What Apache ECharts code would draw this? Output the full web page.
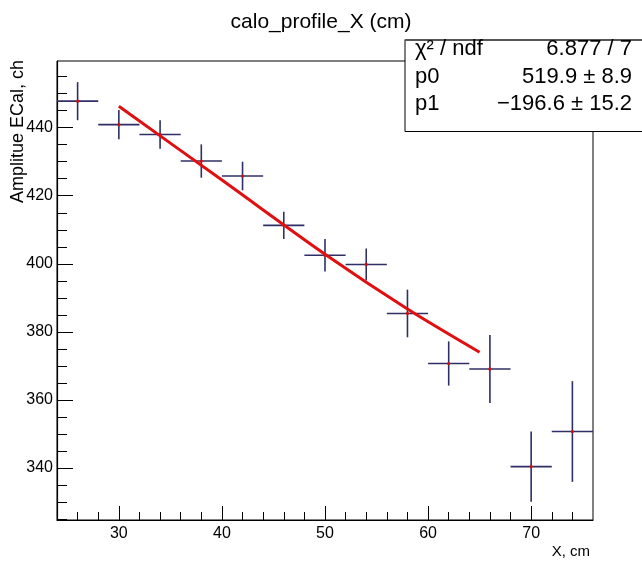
<!DOCTYPE html>
<html>
<head>
<meta charset="utf-8">
<script src="https://cdn.jsdelivr.net/npm/echarts@6/dist/echarts.min.js"></script>
<style>
	html, body { margin: 0; padding: 0; background: #fff; }
	#chart { width: 642px; height: 562px; }
</style>
</head>
<body>
<div id="chart"></div>
<script>
	// bin centres (cm) and profile values
	var binCenters = [26, 30, 34, 38, 42, 46, 50, 54, 58, 62, 66, 70, 74];
	var binHalfWidth = 2;
	var amplitude = [447.8, 440.9, 438.0, 430.2, 425.8, 411.3, 402.5, 399.8, 385.4, 370.7, 369.1, 340.4, 350.7];
	var amplitudeErr = [5.6, 4.3, 4.2, 4.9, 4.2, 4.0, 4.8, 4.7, 7.0, 6.5, 10.0, 10.3, 14.8];

	// fit curve, sampled from the red line
	var fitX = [30, 40, 50, 58, 65];
	var fitY = [446.3, 424.6, 402.8, 386.7, 374.0];

	// axes
	var xMajor = [30, 40, 50, 60, 70];
	var yMajor = [340, 360, 380, 400, 420, 440];
	var xMin = 24, xMax = 76;
	var yMin = 324.7, yMax = 459.6;

	// fit box
	var statNames = ['χ² / ndf', 'p0', 'p1'];
	var statValues = ['6.877 / 7', '519.9 ± 8.9', '−196.6 ± 15.2'];

	var xMinor = [], yMinor = [];
	for (var v = 26; v < xMax; v += 2) { if (xMajor.indexOf(v) < 0) xMinor.push(v); }
	for (var w = 325; w < yMax; w += 5) { if (yMajor.indexOf(w) < 0) yMinor.push(w); }

	var points = binCenters.map(function (x, i) { return [x, amplitude[i], amplitudeErr[i]]; });
	var fitData = fitX.map(function (x, i) { return [x, fitY[i]]; });

	var font = 'Liberation Sans, Arial, sans-serif';
	var barColor = '#2f2f66';

	var statText = [];
	statNames.forEach(function (n, i) {
		statText.push({
			type: 'text', x: 415, y: 49 + i * 27.5,
			style: { text: n, font: '22px ' + font, fill: '#000', align: 'left', verticalAlign: 'middle' }
		});
		statText.push({
			type: 'text', x: 632, y: 49 + i * 27.5,
			style: { text: statValues[i], font: '22px ' + font, fill: '#000', align: 'right', verticalAlign: 'middle' }
		});
	});

	var option = {
		animation: false,
		backgroundColor: '#fff',
		title: {
			text: 'calo_profile_X (cm)',
			left: 'center',
			top: 7,
			textStyle: { fontFamily: font, fontSize: 21, fontWeight: 'normal', color: '#000' }
		},
		grid: {
			left: 57, right: 49, top: 61, bottom: 42,
			show: true, borderColor: '#000', borderWidth: 1
		},
		xAxis: [{
			type: 'value', min: xMin, max: xMax,
			axisLine: { show: true, lineStyle: { color: '#000', width: 1.2 } },
			axisTick: { show: true, inside: true, length: 14, customValues: xMajor, lineStyle: { color: '#000' } },
			axisLabel: { customValues: xMajor, margin: 6, color: '#000', fontFamily: font, fontSize: 16 },
			splitLine: { show: false }
		}, {
			type: 'value', min: xMin, max: xMax, position: 'bottom', gridIndex: 0,
			axisLine: { show: false },
			axisTick: { show: true, inside: true, length: 8, customValues: xMinor, lineStyle: { color: '#000' } },
			axisLabel: { show: false },
			splitLine: { show: false }
		}],
		yAxis: [{
			type: 'value', min: yMin, max: yMax,
			axisLine: { show: true, lineStyle: { color: '#000', width: 1.2 } },
			axisTick: { show: true, inside: true, length: 16, customValues: yMajor, lineStyle: { color: '#000' } },
			axisLabel: { customValues: yMajor, margin: 4, color: '#000', fontFamily: font, fontSize: 16 },
			splitLine: { show: false }
		}, {
			type: 'value', min: yMin, max: yMax, position: 'left', gridIndex: 0,
			axisLine: { show: false },
			axisTick: { show: true, inside: true, length: 10, customValues: yMinor, lineStyle: { color: '#000' } },
			axisLabel: { show: false },
			splitLine: { show: false }
		}],
		series: [{
			type: 'custom',
			xAxisIndex: 0, yAxisIndex: 0,
			data: points,
			renderItem: function (params, api) {
				var x = api.value(0), y = api.value(1), e = api.value(2);
				var l = api.coord([x - binHalfWidth, y]);
				var r = api.coord([x + binHalfWidth, y]);
				var t = api.coord([x, y + e]);
				var b = api.coord([x, y - e]);
				var c = api.coord([x, y]);
				return {
					type: 'group',
					children: [
						{ type: 'line', shape: { x1: l[0], y1: l[1], x2: r[0], y2: r[1] }, style: { stroke: barColor, lineWidth: 1.6 } },
						{ type: 'line', shape: { x1: t[0], y1: t[1], x2: b[0], y2: b[1] }, style: { stroke: barColor, lineWidth: 1.6 } },
						{ type: 'circle', shape: { cx: c[0], cy: c[1], r: 1.6 }, style: { fill: '#cc1111' } }
					]
				};
			}
		}, {
			type: 'line',
			xAxisIndex: 0, yAxisIndex: 0,
			data: fitData,
			showSymbol: false,
			smooth: 0.3,
			lineStyle: { color: '#e01010', width: 3 }
		}],
		graphic: [{
			type: 'text', x: 18, y: 60, rotation: Math.PI / 2,
			style: { text: 'Amplitue ECal, ch', font: '18px ' + font, fill: '#000', align: 'right', verticalAlign: 'middle' }
		}, {
			type: 'text', x: 590, y: 552,
			style: { text: 'X, cm', font: '15px ' + font, fill: '#000', align: 'right', verticalAlign: 'middle' }
		}, {
			type: 'rect', shape: { x: 405, y: 39.5, width: 240, height: 92 },
			style: { fill: '#fff', stroke: '#000', lineWidth: 1 }, z: 10
		}, {
			type: 'line', shape: { x1: 405, y1: 40, x2: 642, y2: 40 },
			style: { stroke: '#555', lineWidth: 2 }, z: 11
		}].concat(statText.map(function (t) { t.z = 12; return t; }))
	};

	var myChart = echarts.init(document.getElementById('chart'));
	myChart.setOption(option);
</script>
</body>
</html>
